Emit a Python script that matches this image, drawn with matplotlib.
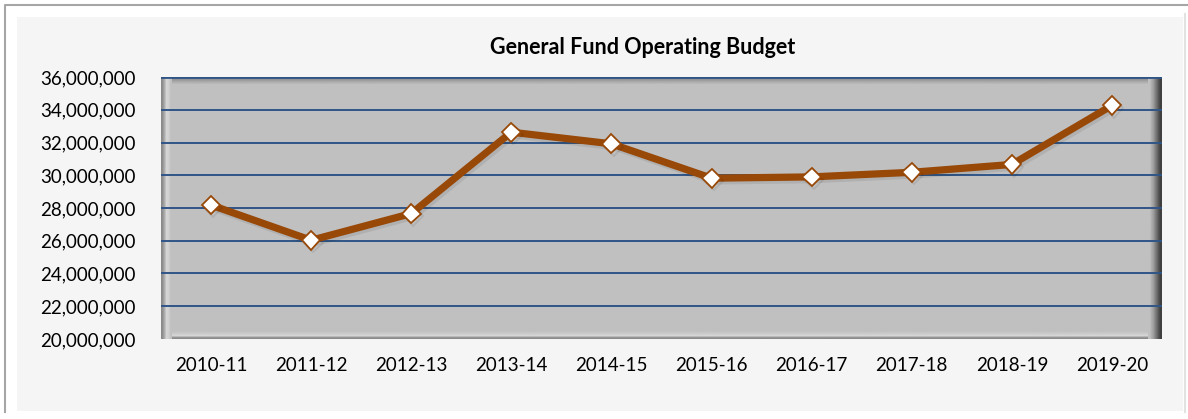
import matplotlib
matplotlib.use("Agg")
import matplotlib.pyplot as plt
import matplotlib.patheffects as pe
import numpy as np
from matplotlib.lines import Line2D
from matplotlib.patches import Rectangle
from matplotlib.ticker import FuncFormatter

years = ["2010-11", "2011-12", "2012-13", "2013-14", "2014-15",
         "2015-16", "2016-17", "2017-18", "2018-19", "2019-20"]
budget = [28180000, 26030000, 27660000, 32630000, 31920000,
          29820000, 29900000, 30180000, 30660000, 34260000]
title = "General Fund Operating Budget"

W, H = 1188, 419
plt.rcParams["font.family"] = ["Lato", "DejaVu Sans"]

fig = plt.figure(figsize=(W / 100, H / 100), dpi=100, facecolor="white")

# outer frame lines and light chart area (behind the axes)
fig.lines.append(Line2D([5 / W, 5 / W, 1], [1 - 412 / H, 1 - 5 / H, 1 - 5 / H],
                        transform=fig.transFigure, color="#a6a6a6", lw=1.5, zorder=-2))
fig.lines.append(Line2D([1185 / W, 1185 / W], [1 - 412 / H, 1 - 14 / H],
                        transform=fig.transFigure, color="#e2e2e2", lw=1.5, zorder=-2))
fig.patches.append(Rectangle((17 / W, 1 - 411 / H), 1166 / W, 394 / H, transform=fig.transFigure,
                             facecolor="#f5f5f5", edgecolor="none", zorder=-1))

left, top, right, bottom = 161, 77, 1162, 339
ax = fig.add_axes([left / W, 1 - bottom / H, (right - left) / W, (bottom - top) / H])
ax.set_facecolor("#c0c0c0")

x = np.arange(len(years))

# bevel shading of the plot area
pw, ph = right - left, bottom - top
def strip(x0, x1, y0, y1, cols, horizontal=True):
    c = np.array([matplotlib.colors.to_rgb(v) for v in cols])
    img = c[None, :, :] if horizontal else c[:, None, :]
    ax.imshow(img, extent=(x0, x1, y0, y1), transform=ax.transAxes, aspect="auto",
              interpolation="bilinear", zorder=0.5)

strip(0, 1, 1 - 9 / ph, 1, ["#8c8c8c", "#a8a8a8", "#c0c0c0"], horizontal=False)
strip(0, 1, 0, 9 / ph, ["#c0c0c0", "#cacaca", "#d6d6d6", "#8a8a8a"], horizontal=False)
strip(0, 11 / pw, 0, 1, ["#8a8a8a", "#a8a8a8", "#d6d6d6", "#d0d0d0", "#c0c0c0"])
strip(1 - 14 / pw, 1, 0, 1, ["#c0c0c0", "#a0a0a0", "#707070", "#404040"])

ax.set_xlim(-0.5, len(years) - 0.5)
ax.set_ylim(20000000, 36000000)
ax.set_yticks(np.arange(20000000, 36000001, 2000000))
ax.yaxis.set_major_formatter(FuncFormatter(lambda v, p: f"{int(v):,}"))
ax.set_xticks(x)
ax.set_xticklabels(years)
ax.tick_params(length=0, labelsize=13.5, colors="black")
ax.tick_params(axis="x", pad=13)
ax.tick_params(axis="y", pad=18)
for s in ax.spines.values():
    s.set_visible(False)

for v in np.arange(22000000, 36000001, 2000000):
    ax.axhline(v, color="#2f5587", lw=1.4 if v < 36000000 else 2.0, zorder=1)

ax.plot(x, budget, color="#984807", lw=5.2, marker="D", markersize=9.5,
        markerfacecolor="white", markeredgecolor="#984807", markeredgewidth=1.3, zorder=3,
        path_effects=[pe.SimpleLineShadow(offset=(1.5, -2), alpha=0.08), pe.Normal()])

fig.text(643 / W, 1 - 48 / H, title, ha="center", va="center", fontsize=15.5, fontweight="bold")

fig.savefig("out.png", dpi=100, facecolor="white")
